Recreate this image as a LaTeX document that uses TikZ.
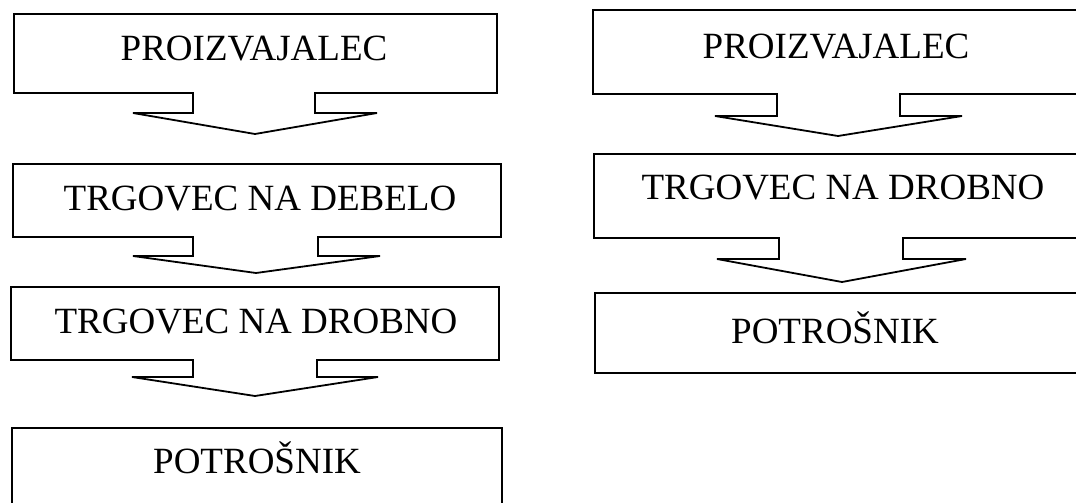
\documentclass[tikz,border=0pt]{standalone}
\usepackage{fontspec}
\setmainfont{Liberation Serif}
\begin{document}
\begin{tikzpicture}[x=1pt,y=-1pt,
  outline/.style={draw=black,line width=1.8pt,line join=miter},
  label/.style={font=\fontsize{37}{40}\selectfont,inner sep=0pt,anchor=base}]
\useasboundingbox (0,0) rectangle (1076,503);
\clip (0,0) rectangle (1076,503);
% left column
\draw[outline] (14,14) -- (497,14) -- (497,93) -- (315,93) -- (315,113) -- (377,113)
  -- (255,134) -- (133,113) -- (193,113) -- (193,93) -- (14,93) -- cycle;
\draw[outline] (13,164) -- (501,164) -- (501,237) -- (318,237) -- (318,256) -- (380,256)
  -- (256,273) -- (133,256) -- (193,256) -- (193,237) -- (13,237) -- cycle;
\draw[outline] (11,287) -- (499,287) -- (499,360) -- (317,360) -- (317,377) -- (378,377)
  -- (255,396) -- (132,377) -- (193,377) -- (193,360) -- (11,360) -- cycle;
\draw[outline] (12,520) -- (12,428) -- (502,428) -- (502,520);
% right column
\draw[outline] (593,10) -- (1090,10) -- (1090,94) -- (900,94) -- (900,116) -- (962,116)
  -- (838,136) -- (715,116) -- (777,116) -- (777,94) -- (593,94) -- cycle;
\draw[outline] (594,154) -- (1090,154) -- (1090,238) -- (903,238) -- (903,259) -- (966,259)
  -- (842,282) -- (717,259) -- (779,259) -- (779,238) -- (594,238) -- cycle;
\draw[outline] (595,293) -- (1090,293) -- (1090,373) -- (595,373) -- cycle;
% labels
\node[label] (l1) at (254,60) {PROIZVAJALEC};
\node[label] (l2) at (260,210) {TRGOVEC NA DEBELO};
\node[label] (l3) at (256,333) {TRGOVEC NA DROBNO};
\node[label] (l4) at (257,473) {POTROŠNIK};
\node[label] (r1) at (836,59) {PROIZVAJALEC};
\node[label] (r2) at (843,199) {TRGOVEC NA DROBNO};
\node[label] (r3) at (835,343) {POTROŠNIK};
\end{tikzpicture}
\end{document}
